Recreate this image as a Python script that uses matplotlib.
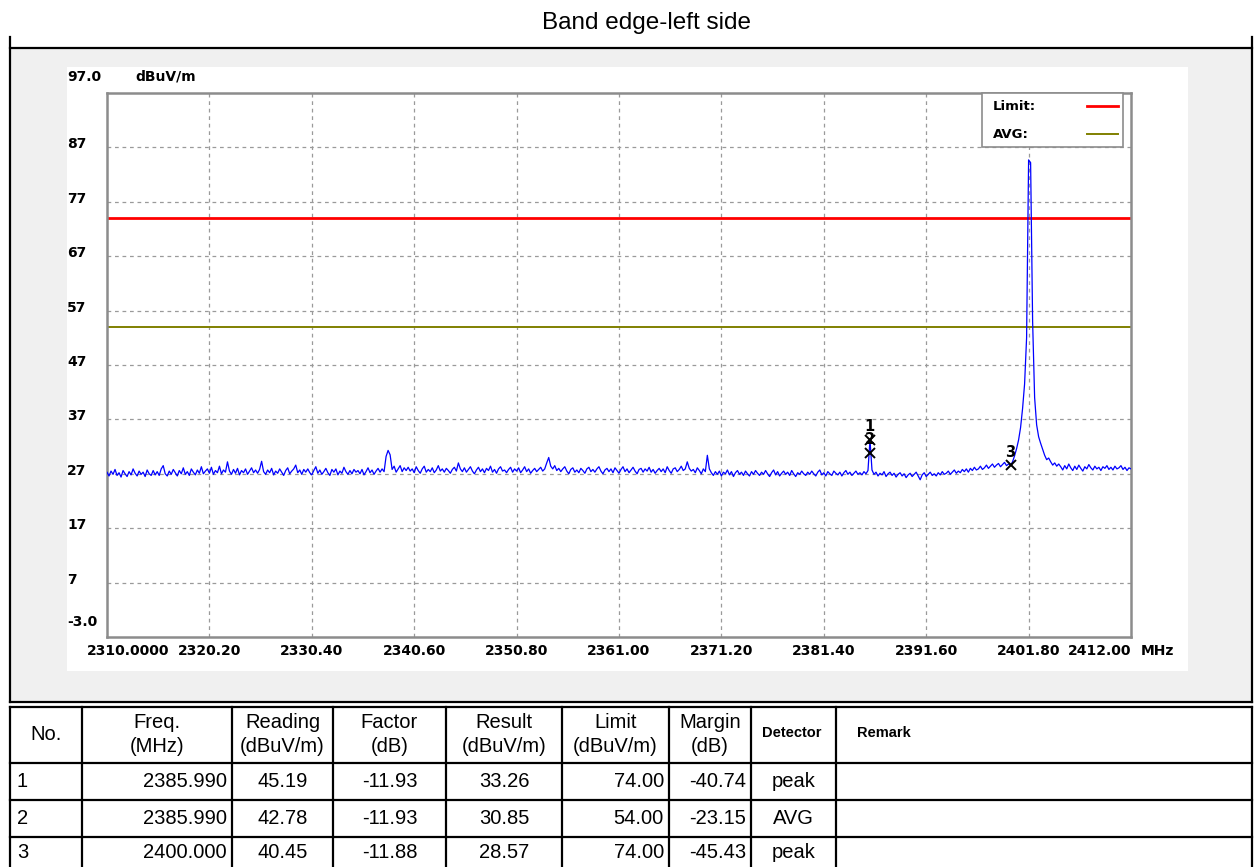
import numpy as np
import matplotlib
matplotlib.use("Agg")
import matplotlib.pyplot as plt
from matplotlib.lines import Line2D
from matplotlib.patches import Rectangle
import matplotlib.transforms as mtransforms

# ---------------- data ----------------
title = "Band edge-left side"
y_unit = "dBuV/m"
x_unit = "MHz"

freq_min, freq_max = 2310.0, 2412.0
# measured trace level (dBuV/m), 0.2 MHz steps from 2310.0 to 2412.0 (one row = 5 MHz)
trace_level = [
    27.3, 26.6, 27.5, 26.9, 27.8, 26.7, 27.2, 26.4, 27.6, 27.0, 26.5, 27.4, 26.8, 27.9, 27.1, 26.6, 27.5, 26.9, 27.3, 26.5, 27.7, 27.0, 26.7, 27.6, 26.8,
    27.4, 26.7, 27.9, 28.5, 27.0, 26.6, 27.5, 26.9, 27.8, 27.2, 26.6, 27.6, 27.0, 28.1, 26.9, 27.4, 26.7, 27.9, 27.3, 26.8, 27.7, 27.1, 28.3, 27.0, 27.5,
    27.9, 27.1, 28.2, 26.9, 27.6, 27.2, 28.4, 27.0, 27.7, 27.3, 29.2, 27.5, 26.9, 27.8, 27.1, 28.0, 26.8, 27.6, 27.2, 27.9, 26.9, 27.5, 28.1, 27.2, 27.7,
    27.1, 27.8, 29.3, 27.4, 26.9, 27.7, 27.2, 28.0, 26.8, 27.5, 27.1, 27.9, 27.3, 26.7, 27.6, 28.1, 27.0, 27.5, 27.9, 28.6, 27.2, 27.7, 26.9, 27.8, 27.3,
    27.9, 27.2, 26.8, 27.6, 28.3, 27.1, 27.7, 26.9, 27.4, 28.0, 27.2, 26.7, 27.8, 27.3, 27.9, 26.8, 27.5, 27.1, 28.2, 27.4, 26.9, 27.6, 27.0, 27.8, 27.3,
    27.6, 27.0, 27.8, 26.8, 27.4, 28.1, 27.2, 27.7, 26.9, 27.5, 28.0, 27.3, 27.9, 27.4, 30.2, 31.3, 30.5, 27.8, 28.4, 27.3, 27.9, 28.5, 27.4, 28.1, 27.6,
    28.2, 27.5, 27.9, 27.2, 28.3, 27.6, 27.1, 27.9, 28.4, 27.3, 27.8, 27.4, 28.1, 27.2, 27.7, 28.5, 27.5, 27.9, 27.3, 28.0, 27.6, 27.1, 27.8, 28.2, 27.5,
    29.0, 27.9, 27.4, 28.1, 27.3, 27.8, 28.3, 27.5, 27.0, 27.7, 28.2, 27.4, 27.9, 27.2, 28.0, 27.6, 28.4, 27.3, 27.8, 27.1, 27.9, 28.3, 27.5, 27.7, 27.2,
    27.8, 28.2, 27.3, 27.9, 27.5, 28.1, 27.2, 27.7, 28.3, 27.4, 27.9, 27.1, 27.6, 28.0, 27.4, 27.8, 28.2, 27.5, 27.9, 29.0, 30.0, 28.4, 27.9, 28.5, 27.6,
    28.0, 27.4, 27.9, 28.3, 27.5, 27.0, 27.8, 28.1, 27.3, 27.7, 27.2, 28.0, 27.6, 27.1, 27.9, 28.2, 27.4, 27.8, 27.3, 27.9, 28.3, 27.5, 27.0, 27.7, 28.0,
    27.4, 27.9, 27.2, 28.1, 27.6, 27.1, 27.8, 28.3, 27.4, 27.9, 27.2, 27.7, 28.2, 27.5, 27.0, 27.8, 28.0, 27.3, 27.9, 27.5, 28.2, 27.3, 27.8, 27.1, 27.6,
    28.0, 27.4, 27.9, 27.2, 28.3, 27.6, 27.1, 27.9, 28.1, 27.4, 27.8, 28.4, 27.6, 27.9, 29.2, 28.0, 27.5, 27.8, 27.2, 28.1, 27.6, 27.0, 27.9, 27.4, 30.4,
    27.9, 27.2, 26.7, 27.4, 26.9, 27.5, 26.6, 27.3, 27.0, 27.7, 26.8, 27.4, 26.5, 27.2, 27.6, 26.9, 27.3, 26.7, 27.5, 27.0, 26.6, 27.4, 26.9, 27.6, 27.1,
    26.7, 27.3, 26.9, 27.6, 27.0, 26.5, 27.2, 27.7, 26.8, 27.4, 26.6, 27.1, 27.5, 26.9, 27.3, 26.7, 27.6, 27.0, 26.5, 27.2, 26.9, 27.5, 27.0, 26.7, 27.3,
    26.9, 27.5, 27.0, 26.6, 27.3, 27.7, 26.8, 27.2, 26.6, 27.4, 27.0, 26.7, 27.5, 27.1, 26.8, 27.3, 26.6, 27.2, 27.6, 26.9, 27.3, 26.7, 27.1, 27.5, 26.9,
    27.2, 26.8, 27.4, 27.0, 27.6, 33.26, 27.7, 26.9, 27.3, 26.6, 27.1, 26.8, 27.4, 26.5, 27.0, 27.3, 26.7, 27.1, 26.4, 26.9, 27.2, 26.6, 27.0, 26.3, 26.8,
    27.1, 26.5, 26.9, 27.3, 26.6, 25.9, 26.8, 27.2, 26.5, 26.9, 27.3, 26.7, 27.0, 26.6, 27.2, 26.8, 27.4, 26.9, 27.1, 27.5, 26.9, 27.3, 27.7, 27.1, 27.5,
    27.2, 27.8, 27.4, 27.9, 27.3, 28.0, 27.6, 28.2, 27.7, 27.9, 28.4, 27.8, 28.1, 28.6, 28.0, 28.4, 28.8, 28.2, 28.6, 28.9, 28.3, 28.7, 29.1, 28.5, 28.8,
    28.57, 29.2, 30.3, 31.6, 33.2, 35.5, 39.0, 43.5, 52.0, 84.7, 84.2, 55.0, 41.0, 36.0, 33.8, 32.6, 31.5, 30.4, 29.6, 29.9, 29.2, 28.6, 29.0, 28.4, 28.8,
    28.3, 27.7, 28.5, 27.9, 28.8, 28.1, 27.6, 28.4, 27.8, 28.6, 28.0, 27.5, 28.3, 27.9, 28.7, 28.1, 27.7, 28.4, 27.9, 28.2, 27.6, 28.3, 28.0, 28.5, 27.8,
    28.2, 27.7, 28.4, 27.9, 28.1, 28.5, 27.8, 28.2, 27.6, 28.1, 27.9,
]

x_ticks = [2310.0, 2320.2, 2330.4, 2340.6, 2350.8, 2361.0, 2371.2, 2381.4, 2391.6, 2401.8, 2412.0]
x_tick_labels = ["2310.0000", "2320.20", "2330.40", "2340.60", "2350.80", "2361.00",
                 "2371.20", "2381.40", "2391.60", "2401.80", "2412.00"]
y_ticks = [97, 87, 77, 67, 57, 47, 37, 27, 17, 7, -3]
y_tick_labels = ["97.0", "87", "77", "67", "57", "47", "37", "27", "17", "7", "-3.0"]

limit_peak = 74.0
limit_avg = 54.0
legend_labels = ["Limit:", "AVG:"]

marker_no = [1, 2, 3]
marker_freq = [2385.990, 2385.990, 2400.000]
marker_level = [33.26, 30.85, 28.57]

table_header = ["No.", "Freq.\n(MHz)", "Reading\n(dBuV/m)", "Factor\n(dB)", "Result\n(dBuV/m)",
                "Limit\n(dBuV/m)", "Margin\n(dB)", "Detector", "Remark"]
col_no = ["1", "2", "3"]
col_freq = ["2385.990", "2385.990", "2400.000"]
col_reading = ["45.19", "42.78", "40.45"]
col_factor = ["-11.93", "-11.93", "-11.88"]
col_result = ["33.26", "30.85", "28.57"]
col_limit = ["74.00", "54.00", "74.00"]
col_margin = ["-40.74", "-23.15", "-45.43"]
col_detector = ["peak", "AVG", "peak"]
col_remark = ["", "", ""]

# ---------------- layout helpers ----------------
W, H = 1256, 867
def fx(x):
    return x / W
def fy(y):
    return 1 - y / H

SANS = ["Liberation Sans", "DejaVu Sans"]
TICKFONT = dict(family="DejaVu Sans", fontweight="bold", fontsize=10, color="black")

fig = plt.figure(figsize=(W / 100, H / 100), dpi=100)
fig.patch.set_facecolor("white")

def fig_line(xs, ys, **kw):
    fig.add_artist(Line2D([fx(x) for x in xs], [fy(y) for y in ys],
                          transform=fig.transFigure, **kw))

def fig_rect(x0, y0, x1, y1, **kw):
    fig.add_artist(Rectangle((fx(x0), fy(y1)), fx(x1) - fx(x0), fy(y0) - fy(y1),
                             transform=fig.transFigure, **kw))

# title
fig.text(fx(647), fy(23), title, ha="center", va="center", fontsize=17.5, family=SANS)

# outer gray panel
fig_rect(10, 48, 1252, 702, facecolor="#f0f0f0", edgecolor="none", zorder=-10)
fig_rect(67, 67, 1188, 671, facecolor="white", edgecolor="none", zorder=-9)
fig_line([10, 10], [37, 702], color="black", lw=1.6, zorder=5)
fig_line([1252, 1252], [37, 702], color="black", lw=1.6, zorder=5)
fig_line([10, 1252], [48, 48], color="black", lw=1.6, zorder=5)
fig_line([10, 1252], [702, 702], color="black", lw=1.6, zorder=5)

# ---------------- spectrum axes ----------------
ax = fig.add_axes([fx(107), fy(637), fx(1131) - fx(107), (637 - 93) / H])
ax.set_facecolor("white")
ax.set_xlim(freq_min, freq_max)
ax.set_ylim(y_ticks[-1], y_ticks[0])
ax.set_xticks([])
ax.set_yticks([])
for sp in ax.spines.values():
    sp.set_color("#8c8c8c")
    sp.set_linewidth(1.8)

for xv in x_ticks[1:-1]:
    ax.axvline(xv, color="#9a9a9a", lw=0.9, ls=(0, (3, 3)), zorder=1)
for yv in y_ticks[1:-1]:
    ax.axhline(yv, color="#9a9a9a", lw=0.9, ls=(0, (3, 3)), zorder=1)

ax.axhline(limit_peak, color="#ff0000", lw=2.0, zorder=2)
ax.axhline(limit_avg, color="#808000", lw=1.4, zorder=2)

freqs = np.linspace(freq_min, freq_max, len(trace_level))
ax.plot(freqs, trace_level, color="#0000ff", lw=0.9, zorder=3)

ax.plot(marker_freq, marker_level, "x", color="black", ms=6.5, mew=1.4, zorder=4)
for n, f, v in zip(marker_no, marker_freq, marker_level):
    ax.annotate(str(n), (f, v), xytext=(0, 4), textcoords="offset points",
                ha="center", va="bottom", zorder=5, **dict(TICKFONT, fontsize=10.5))

# y tick labels
ytrans = mtransforms.blended_transform_factory(fig.transFigure, ax.transData)
for v, lab in zip(y_ticks, y_tick_labels):
    if v == y_ticks[0]:
        dy = 16
    elif v == y_ticks[-1]:
        dy = 15
    else:
        dy = 3
    tr = mtransforms.offset_copy(ytrans, fig=fig, x=0, y=dy, units="dots")
    ax.text(fx(67), v, lab, transform=tr, ha="left", va="center", clip_on=False, **TICKFONT)
fig.text(fx(135), fy(77), y_unit, ha="left", va="center", **TICKFONT)

# x tick labels
xtrans = mtransforms.blended_transform_factory(ax.transData, fig.transFigure)
for i, (v, lab) in enumerate(zip(x_ticks, x_tick_labels)):
    if i == 0:
        tr = mtransforms.offset_copy(xtrans, fig=fig, x=-20, y=0, units="dots")
        ha = "left"
    elif i == len(x_ticks) - 1:
        tr = mtransforms.offset_copy(xtrans, fig=fig, x=0, y=0, units="dots")
        ha = "right"
    else:
        tr = xtrans
        ha = "center"
    ax.text(v, fy(651), lab, transform=tr, ha=ha, va="center", clip_on=False, **TICKFONT)
fig.text(fx(1141), fy(651), x_unit, ha="left", va="center", **TICKFONT)

# legend box
fig_rect(982, 93, 1123, 147, facecolor="white", edgecolor="#8c8c8c", lw=1.2, zorder=6)
fig.text(fx(993), fy(107), legend_labels[0], ha="left", va="center", zorder=7,
         **dict(TICKFONT, fontsize=9.5))
fig.text(fx(993), fy(134), legend_labels[1], ha="left", va="center", zorder=7,
         **dict(TICKFONT, fontsize=9.5))
fig_line([1087, 1118], [106, 106], color="#ff0000", lw=2.0, zorder=7)
fig_line([1087, 1118], [134, 134], color="#808000", lw=1.4, zorder=7)

# ---------------- table ----------------
col_edges = [10, 82, 232, 333, 446, 562, 669, 751, 836, 1252]
row_edges = [707, 763, 800, 837, 868]
for xe in col_edges:
    fig_line([xe, xe], [row_edges[0], row_edges[-1]], color="black", lw=1.6)
for ye in row_edges[:-1]:
    fig_line([col_edges[0], col_edges[-1]], [ye, ye], color="black", lw=1.6)

TFONT = dict(family=SANS, fontsize=14.5, color="black")
SFONT = dict(family=SANS, fontsize=10.5, color="black", fontweight="bold")

hy = (row_edges[0] + row_edges[1]) / 2
for j, h in enumerate(table_header):
    x0, x1 = col_edges[j], col_edges[j + 1]
    if h == "Detector":
        fig.text(fx((x0 + x1) / 2 - 2), fy(hy - 2), h, ha="center", va="center", **SFONT)
    elif h == "Remark":
        fig.text(fx(x0 + 21), fy(hy - 2), h, ha="left", va="center", **SFONT)
    elif "\n" in h:
        top, bot = h.split("\n")
        fig.text(fx((x0 + x1) / 2), fy(hy - 13), top, ha="center", va="center", **TFONT)
        fig.text(fx((x0 + x1) / 2), fy(hy + 12), bot, ha="center", va="center", **TFONT)
    else:
        fig.text(fx((x0 + x1) / 2), fy(hy), h, ha="center", va="center", **TFONT)

columns = [col_no, col_freq, col_reading, col_factor, col_result, col_limit,
           col_margin, col_detector, col_remark]
aligns = ["left", "right", "center", "center", "center", "right", "right", "center", "left"]
for i in range(len(col_no)):
    yc = (row_edges[i + 1] + row_edges[i + 2]) / 2 if i + 2 < len(row_edges) - 1 else 852
    for j, col in enumerate(columns):
        x0, x1 = col_edges[j], col_edges[j + 1]
        a = aligns[j]
        if a == "left":
            xp = x0 + 7
        elif a == "right":
            xp = x1 - 5
        else:
            xp = (x0 + x1) / 2
        fig.text(fx(xp), fy(yc), col[i], ha=a, va="center", **TFONT)

fig.savefig("out.png", dpi=100)
